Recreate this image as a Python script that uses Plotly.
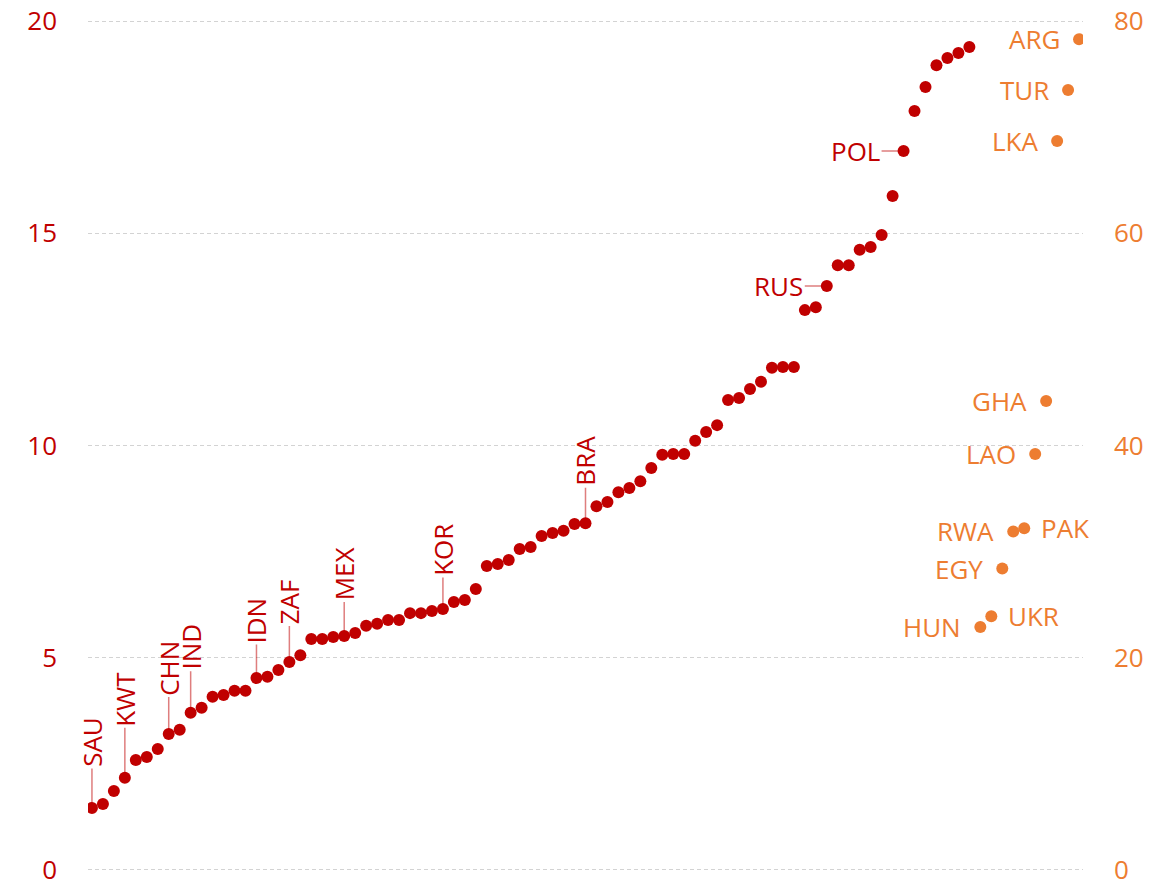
import plotly.graph_objects as go

# Red series (left axis, 0-20), sorted ascending
red_values = [1.46, 1.55, 1.86, 2.17, 2.59, 2.66, 2.85, 3.20, 3.30, 3.70,
              3.82, 4.08, 4.12, 4.22, 4.22, 4.52, 4.55, 4.71, 4.90, 5.06,
              5.44, 5.44, 5.49, 5.51, 5.58, 5.75, 5.80, 5.89, 5.89, 6.05,
              6.05, 6.10, 6.15, 6.31, 6.36, 6.62, 7.16, 7.21, 7.30, 7.56,
              7.61, 7.87, 7.94, 7.99, 8.15, 8.17, 8.57, 8.67, 8.90, 9.00,
              9.16, 9.47, 9.78, 9.80, 9.80, 10.11, 10.32, 10.48, 11.07, 11.12,
              11.33, 11.50, 11.83, 11.85, 11.85, 13.19, 13.26, 13.76, 14.25, 14.25,
              14.61, 14.68, 14.96, 15.88, 16.94, 17.88, 18.45, 18.96, 19.13, 19.25,
              19.39]
red_rank = list(range(len(red_values)))

# Labelled red points (vertical labels above the point)
vlabel_codes = ["SAU", "KWT", "CHN", "IND", "IDN", "ZAF", "MEX", "KOR", "BRA"]
vlabel_rank = [0, 3, 7, 9, 15, 18, 23, 32, 45]
vlabel_offset = [-66, -79, -66, -66, -58, -60, -62, -59, -62]

# Labelled red points (horizontal labels left of the point)
hlabel_codes = ["RUS", "POL"]
hlabel_rank = [67, 74]

# Orange series (right axis, 0-80)
orange_codes = ["HUN", "UKR", "EGY", "RWA", "PAK", "LAO", "GHA", "LKA", "TUR", "ARG"]
orange_values = [22.9, 23.9, 28.4, 31.9, 32.2, 39.2, 44.2, 68.7, 73.5, 78.3]
orange_rank = list(range(len(red_values), len(red_values) + len(orange_values)))
orange_label_side = ["left", "right", "left", "left", "right", "left", "left", "left", "left", "left"]

left_ticks = [0, 5, 10, 15, 20]
right_ticks = [0, 20, 40, 60, 80]

RED = "#c00000"
ORANGE = "#ed7d31"
LEADER = "rgba(192,0,0,0.5)"
FONT = "Open Sans"

fig = go.Figure()
fig.add_trace(go.Scatter(x=red_rank, y=red_values, mode="markers",
                         marker=dict(color=RED, size=12), yaxis="y",
                         hoverinfo="skip", showlegend=False))
fig.add_trace(go.Scatter(x=orange_rank, y=orange_values, mode="markers",
                         marker=dict(color=ORANGE, size=12), yaxis="y2",
                         hoverinfo="skip", showlegend=False))

annotations = []
for code, r, off in zip(vlabel_codes, vlabel_rank, vlabel_offset):
    annotations.append(dict(x=r, y=red_values[r], xref="x", yref="y", text=code,
                            textangle=-90, showarrow=True, arrowhead=0,
                            arrowwidth=1.5, arrowcolor=LEADER, ax=0, ay=off,
                            standoff=4, font=dict(color=RED, size=26, family=FONT)))
for code, r in zip(hlabel_codes, hlabel_rank):
    annotations.append(dict(x=r, y=red_values[r], xref="x", yref="y", text=code,
                            showarrow=True, arrowhead=0, arrowwidth=1.5,
                            arrowcolor=LEADER, ax=-48, ay=0, standoff=4,
                            font=dict(color=RED, size=26, family=FONT)))
for code, r, v, side in zip(orange_codes, orange_rank, orange_values, orange_label_side):
    annotations.append(dict(x=r, y=v, xref="x", yref="y2", text=code,
                            showarrow=False,
                            xanchor="right" if side == "left" else "left",
                            xshift=-17 if side == "left" else 15,
                            font=dict(color=ORANGE, size=26, family=FONT)))

fig.update_layout(
    width=1171, height=884,
    margin=dict(l=88, r=88, t=19, b=12, autoexpand=False),
    paper_bgcolor="white", plot_bgcolor="white",
    font=dict(family=FONT),
    xaxis=dict(range=[-0.36, 90.36], showgrid=False, zeroline=False,
               showticklabels=False, showline=False, automargin=False),
    yaxis=dict(range=[-0.05, 20.05], tickvals=left_ticks, showgrid=True,
               gridcolor="#d3d3d3", griddash="4px,3px", gridwidth=1,
               zeroline=False, showline=False, ticks="", ticklabelstandoff=30,
               automargin=False, ticklabeloverflow="allow",
               tickfont=dict(color=RED, size=26, family=FONT)),
    yaxis2=dict(range=[-0.2, 80.2], tickvals=right_ticks, overlaying="y", side="right",
                showgrid=False, zeroline=False, showline=False, ticks="",
                ticklabelstandoff=30, automargin=False, ticklabeloverflow="allow",
                tickfont=dict(color=ORANGE, size=26, family=FONT)),
    annotations=annotations,
)

fig.write_html("out.html", config={"displayModeBar": False},
               post_script="document.body.style.margin='0';document.body.style.overflow='hidden';")
